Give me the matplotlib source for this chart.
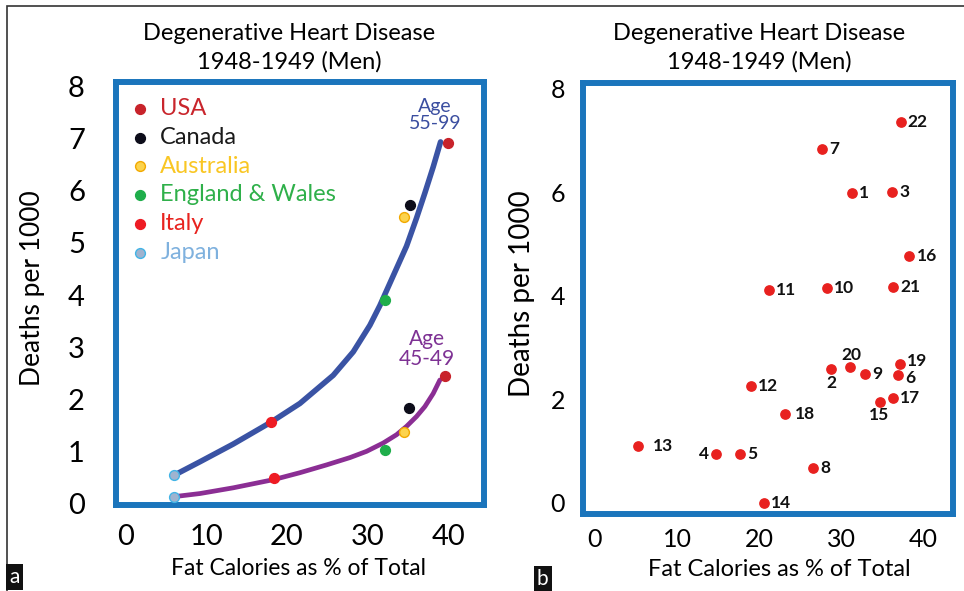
import numpy as np
import matplotlib
matplotlib.use('Agg')
import matplotlib.pyplot as plt
from matplotlib.patches import Rectangle

plt.rcParams['font.family'] = ['Lato', 'DejaVu Sans']

# panel a: country data for the two age groups
countries = ["USA", "Canada", "Australia", "England & Wales", "Italy", "Japan"]
fat_old = [39.9, 35.2, 34.5, 32.1, 18.0, 6.0]
deaths_old = [6.92, 5.73, 5.50, 3.91, 1.56, 0.54]
fat_young = [39.6, 35.1, 34.5, 32.1, 18.4, 6.0]
deaths_young = [2.44, 1.83, 1.38, 1.02, 0.48, 0.13]

# trend curves
curve_old_x = [6.01, 9.23, 13.35, 18.02, 21.61, 25.73, 28.21, 30.27, 31.51,
               33.16, 34.81, 36.05, 37.08, 38.11, 39.02]
curve_old_y = [0.54, 0.80, 1.14, 1.56, 1.92, 2.46, 2.91, 3.42, 3.80,
               4.37, 4.94, 5.48, 5.96, 6.46, 6.94]
curve_young_x = [6.01, 9.23, 13.35, 18.43, 21.61, 24.91, 27.80, 29.86, 31.92,
                 33.58, 34.81, 36.05, 37.08, 38.11, 38.94]
curve_young_y = [0.13, 0.19, 0.30, 0.46, 0.59, 0.74, 0.88, 1.00, 1.16,
                 1.32, 1.48, 1.67, 1.86, 2.11, 2.37]

# panel b: numbered countries
point_ids = list(range(1, 23))
fat_b = [31.3, 28.8, 36.2, 14.7, 17.7, 36.9, 27.7, 26.6, 32.9, 28.3, 21.2,
         19.0, 5.3, 20.6, 34.7, 38.3, 36.3, 23.1, 37.1, 31.1, 36.3, 37.25]
deaths_b = [5.99, 2.58, 6.00, 0.94, 0.94, 2.46, 6.83, 0.67, 2.49, 4.14, 4.11,
            2.25, 1.09, 0.00, 1.94, 4.76, 2.02, 1.72, 2.68, 2.62, 4.17, 7.35]

ticks_x = [0, 10, 20, 30, 40]
title = "Degenerative Heart Disease\n1948-1949 (Men)"
xlab = "Fat Calories as % of Total"
ylab = "Deaths per 1000"

# styles
marker_fc = ["#c8232b", "#0d0d1a", "#fcd34d", "#1fae4b", "#ee1c24", "#9fb3cf"]
marker_ec = ["#c8232b", "#0d0d1a", "#f2a900", "#1fae4b", "#ee1c24", "#42b4e6"]
text_col = ["#c9252c", "#1a1a1a", "#f9c623", "#2fb04a", "#e8231f", "#7fb1de"]
frame_col = "#1b75bc"

W, H = 964, 591
fig = plt.figure(figsize=(W / 100, H / 100), dpi=100)
ax_a = fig.add_axes([115.5 / W, 1 - 505 / H, (484 - 115.5) / W, (505 - 82) / H])
ax_b = fig.add_axes([582.5 / W, 1 - 514 / H, (953 - 582.5) / W, (514 - 82.5) / H])

for ax in (ax_a, ax_b):
    for sp in ax.spines.values():
        sp.set_color(frame_col)
        sp.set_linewidth(4.3)
    ax.set_xticks(ticks_x)

# ---- panel a
ax_a.set_xlim(-1.23, 44.4)
ax_a.set_ylim(-0.03, 8.09)
ax_a.set_yticks(range(0, 9))
ax_a.tick_params(axis='x', length=0, pad=14, labelsize=21)
ax_a.tick_params(axis='y', length=0, pad=22, labelsize=21)

ax_a.plot(curve_old_x, curve_old_y, color="#3a53a4", lw=4.0,
          solid_capstyle='round', solid_joinstyle='round', zorder=2)
ax_a.plot(curve_young_x, curve_young_y, color="#8b2e94", lw=3.4,
          solid_capstyle='round', solid_joinstyle='round', zorder=2)

for i in range(len(countries)):
    ax_a.scatter([fat_old[i], fat_young[i]], [deaths_old[i], deaths_young[i]],
                 s=50, facecolor=marker_fc[i], edgecolor=marker_ec[i],
                 linewidth=1.0, zorder=3, label=countries[i])

ax_a.legend(loc='upper left', bbox_to_anchor=(0.048, 0.962), frameon=False,
            fontsize=17, labelcolor=text_col, handlelength=0.6,
            handletextpad=0.55, labelspacing=0.33, borderpad=0,
            borderaxespad=0, scatterpoints=1)

ax_a.text(38.3, 7.45, "Age\n55-99", color="#3b4ea0", fontsize=14,
          ha='center', va='center', linespacing=1.0)
ax_a.text(37.3, 2.97, "Age\n45-49", color="#7e3294", fontsize=15,
          ha='center', va='center', linespacing=1.0)

ax_a.set_title(title, fontsize=17, x=0.471, pad=10, linespacing=1.4)
ax_a.set_xlabel(xlab, fontsize=16.5)
ax_a.xaxis.set_label_coords(0.497, -0.126)
ax_a.set_ylabel(ylab, fontsize=19)
ax_a.yaxis.set_label_coords(-0.191, 0.513)

# ---- panel b
ax_b.set_xlim(-1.5, 43.6)
ax_b.set_ylim(-0.22, 8.12)
ax_b.set_yticks([0, 2, 4, 6, 8])
ax_b.tick_params(axis='x', length=0, pad=10, labelsize=18)
ax_b.tick_params(axis='y', length=0, pad=12.5, labelsize=18)

ax_b.scatter(fat_b, deaths_b, s=45, color="#e8211f", zorder=3)

# label placement (pixel offsets) for the crowded points
label_pos = {4: (-7, 0, 'right'), 13: (15, 0, 'left'), 18: (10, 0, 'left'),
             20: (1, 12, 'center'), 2: (0, -14, 'center'), 15: (-1, -13, 'center'),
             19: (7, 3, 'left'), 6: (7, -3, 'left')}
for pid, x, y in zip(point_ids, fat_b, deaths_b):
    dx, dy, ha = label_pos.get(pid, (7, 0, 'left'))
    ax_b.annotate(str(pid), (x, y), xytext=(dx, dy), textcoords='offset pixels',
                  ha=ha, va='center', fontsize=12.5, fontweight='bold', color='#111111')

ax_b.set_title(title, fontsize=17, x=0.476, pad=10, linespacing=1.4)
ax_b.set_xlabel(xlab, fontsize=17)
ax_b.xaxis.set_label_coords(0.530, -0.104)
ax_b.set_ylabel(ylab, fontsize=20)
ax_b.yaxis.set_label_coords(-0.128, 0.511)

# panel letters and outer frame
fig.text(9 / W, 4 / H, "a", color='white', fontsize=15, ha='left', va='bottom',
         bbox=dict(facecolor='#111111', edgecolor='none', boxstyle='square,pad=0.15'))
fig.text(537 / W, 2 / H, "b", color='white', fontsize=15, ha='left', va='bottom',
         bbox=dict(facecolor='#111111', edgecolor='none', boxstyle='square,pad=0.15'))
fig.patches.append(Rectangle((7 / W, -0.05), 1.1, 1.05 - 6 / H, transform=fig.transFigure,
                             fill=False, edgecolor='#333333', lw=1.2))

fig.savefig("out.png", dpi=100)
